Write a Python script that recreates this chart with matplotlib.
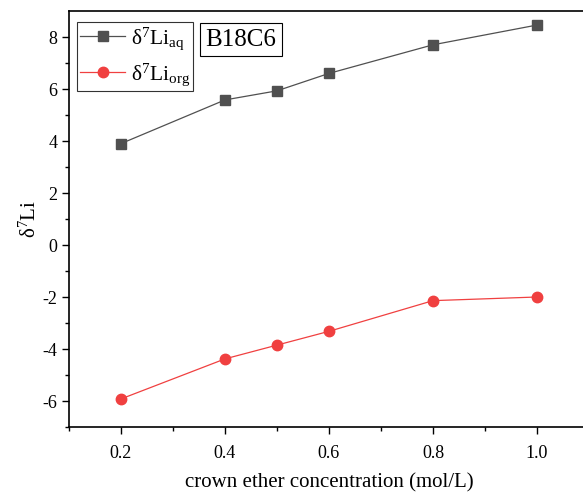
import matplotlib.pyplot as plt

plt.rcParams['font.family'] = ['Liberation Serif', 'DejaVu Serif']
plt.rcParams['mathtext.fontset'] = 'custom'
plt.rcParams['mathtext.rm'] = 'Liberation Serif'
plt.rcParams['mathtext.it'] = 'Liberation Serif:italic'

conc = [0.2, 0.4, 0.5, 0.6, 0.8, 1.0]
li_aq = [3.9, 5.58, 5.93, 6.6, 7.7, 8.46]
li_org = [-5.92, -4.38, -3.85, -3.32, -2.14, -2.0]

fig = plt.figure(figsize=(5.83, 4.96), dpi=100)
ax = fig.add_axes([69 / 583, 69 / 496, 520 / 583, 416 / 496])

ax.plot(conc, li_aq, color='#505050', lw=0.9, marker='s', ms=7,
        label=r'$\mathrm{\delta^7Li_{aq}}$')
ax.plot(conc, li_org, color='#f04040', lw=0.9, marker='o', ms=7.5,
        label=r'$\mathrm{\delta^7Li_{org}}$')

ax.set_xlim(0.1, 1.1)
ax.set_ylim(-7, 9)
ax.set_xticks([0.2, 0.4, 0.6, 0.8, 1.0])
ax.set_xticks([0.1, 0.3, 0.5, 0.7, 0.9], minor=True)
ax.set_yticks([-6, -4, -2, 0, 2, 4, 6, 8])
ax.set_yticks([-7, -5, -3, -1, 1, 3, 5, 7], minor=True)
ax.set_yticklabels(['-6', '-4', '-2', '0', '2', '4', '6', '8'])
ax.tick_params(labelsize=13, length=5, width=1)
ax.tick_params(which='minor', length=3, width=1)
ax.xaxis.set_tick_params(pad=8)
ax.spines['right'].set_visible(False)
for s in ['left', 'bottom', 'top']:
    ax.spines[s].set_linewidth(1.2)

ax.set_xlabel('crown ether concentration (mol/L)', fontsize=15, labelpad=8)
ax.set_ylabel(r'$\mathrm{\delta^7Li}$', fontsize=15, labelpad=1)

leg = ax.legend(loc='upper left', bbox_to_anchor=(0.015, 0.974), fontsize=15.5,
                fancybox=False, edgecolor='black', handlelength=2.1,
                borderpad=0.15, labelspacing=0.45, handletextpad=0.25,
                borderaxespad=0)
leg.get_frame().set_linewidth(0.8)

ax.text(0.262, 0.957, 'B18C6', transform=ax.transAxes, fontsize=18, va='top',
        bbox=dict(boxstyle='square,pad=0.22', fc='white', ec='black', lw=0.8))

fig.savefig('out.png', dpi=100)
